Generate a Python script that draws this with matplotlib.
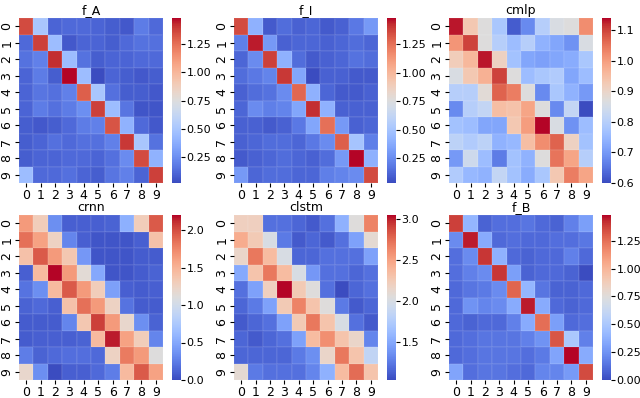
import matplotlib
matplotlib.use('Agg')
import matplotlib.pyplot as plt
import seaborn as sns
import numpy as np

titles = ['f_A', 'f_I', 'cmlp', 'crnn', 'clstm', 'f_B']
labels = [str(i) for i in range(10)]

f_A = [
    [1.35, 0.50, 0.10, 0.12, 0.12, 0.10, 0.08, 0.06, 0.18, 0.12],
    [0.12, 1.38, 0.45, 0.06, 0.10, 0.10, 0.08, 0.12, 0.15, 0.14],
    [0.15, 0.20, 1.42, 0.45, 0.15, 0.08, 0.10, 0.10, 0.12, 0.12],
    [0.10, 0.18, 0.08, 1.48, 0.45, 0.02, 0.10, 0.08, 0.06, 0.08],
    [0.10, 0.16, 0.14, 0.20, 1.30, 0.50, 0.14, 0.08, 0.08, 0.06],
    [0.10, 0.18, 0.14, 0.18, 0.25, 1.38, 0.45, 0.16, 0.05, 0.05],
    [0.08, 0.06, 0.08, 0.12, 0.18, 0.20, 1.33, 0.40, 0.12, 0.06],
    [0.08, 0.10, 0.14, 0.12, 0.14, 0.14, 0.20, 1.40, 0.50, 0.15],
    [0.08, 0.10, 0.10, 0.12, 0.12, 0.10, 0.14, 0.24, 1.35, 0.40],
    [0.45, 0.12, 0.12, 0.14, 0.10, 0.08, 0.16, 0.20, 0.10, 1.38],
]

f_I = [
    [1.35, 0.40, 0.08, 0.14, 0.10, 0.12, 0.08, 0.10, 0.18, 0.30],
    [0.20, 1.45, 0.30, 0.10, 0.12, 0.12, 0.10, 0.12, 0.14, 0.12],
    [0.12, 0.25, 1.38, 0.40, 0.14, 0.08, 0.10, 0.12, 0.16, 0.14],
    [0.14, 0.18, 0.22, 1.40, 0.35, 0.03, 0.10, 0.10, 0.08, 0.08],
    [0.10, 0.14, 0.16, 0.25, 1.28, 0.40, 0.12, 0.08, 0.08, 0.10],
    [0.12, 0.25, 0.20, 0.22, 0.35, 1.42, 0.40, 0.10, 0.10, 0.10],
    [0.10, 0.10, 0.08, 0.10, 0.18, 0.35, 1.25, 0.30, 0.10, 0.12],
    [0.10, 0.12, 0.14, 0.14, 0.12, 0.18, 0.25, 1.30, 0.50, 0.20],
    [0.08, 0.10, 0.12, 0.14, 0.12, 0.10, 0.14, 0.30, 1.48, 0.40],
    [0.30, 0.12, 0.14, 0.14, 0.12, 0.12, 0.20, 0.22, 0.25, 1.35],
]

cmlp = [
    [1.13, 0.93, 0.87, 0.78, 0.62, 0.68, 0.80, 0.86, 0.87, 1.02],
    [1.01, 1.10, 0.87, 0.80, 0.76, 0.80, 0.74, 0.72, 0.69, 0.86],
    [0.92, 0.96, 1.13, 0.91, 0.77, 0.72, 0.71, 0.72, 0.73, 0.78],
    [0.86, 0.93, 0.97, 1.10, 0.87, 0.76, 0.78, 0.79, 0.72, 0.76],
    [0.80, 0.80, 0.88, 1.07, 1.04, 0.87, 0.68, 0.78, 0.74, 0.70],
    [0.68, 0.80, 0.82, 0.95, 0.94, 0.99, 0.87, 0.68, 0.82, 0.60],
    [0.77, 0.76, 0.72, 0.72, 0.93, 1.00, 1.14, 0.86, 0.69, 0.76],
    [0.81, 0.79, 0.81, 0.74, 0.75, 0.95, 1.02, 1.07, 0.91, 0.77],
    [0.70, 0.84, 0.76, 0.66, 0.77, 0.74, 0.87, 1.05, 0.99, 0.80],
    [0.79, 0.75, 0.74, 0.82, 0.77, 0.73, 0.78, 0.93, 1.04, 0.99],
]

crnn = [
    [1.65, 1.30, 0.35, 0.10, 0.10, 0.10, 0.12, 0.55, 1.30, 1.95],
    [1.85, 1.60, 1.25, 0.30, 0.10, 0.05, 0.05, 0.05, 0.10, 1.40],
    [1.40, 1.95, 1.65, 1.35, 0.40, 0.05, 0.05, 0.05, 0.08, 0.08],
    [0.10, 1.45, 2.20, 1.65, 1.15, 0.50, 0.05, 0.05, 0.08, 0.12],
    [0.20, 0.35, 1.45, 1.95, 1.65, 1.30, 0.45, 0.10, 0.08, 0.10],
    [0.12, 0.15, 0.10, 1.40, 1.85, 1.65, 1.25, 0.20, 0.08, 0.08],
    [0.08, 0.08, 0.08, 0.30, 1.35, 2.05, 1.65, 1.20, 0.35, 0.12],
    [0.08, 0.10, 0.10, 0.10, 0.12, 1.45, 2.15, 1.60, 1.30, 0.30],
    [0.25, 0.12, 0.15, 0.18, 0.18, 0.15, 1.25, 1.80, 1.65, 1.10],
    [1.20, 0.35, 0.00, 0.10, 0.10, 0.15, 0.25, 1.45, 1.95, 1.60],
]

clstm = [
    [2.20, 2.20, 1.20, 1.20, 1.15, 1.10, 1.20, 1.55, 2.05, 2.65],
    [2.45, 2.25, 2.00, 1.25, 1.10, 1.15, 1.10, 1.20, 1.45, 2.10],
    [2.15, 2.70, 2.35, 2.00, 1.15, 1.15, 1.20, 1.20, 1.20, 1.45],
    [1.50, 2.30, 2.70, 2.35, 2.00, 1.40, 1.20, 1.20, 1.15, 1.20],
    [1.20, 1.45, 2.20, 3.05, 2.25, 2.05, 1.20, 1.03, 1.15, 1.20],
    [1.15, 1.25, 1.45, 2.25, 2.65, 2.30, 2.05, 1.25, 1.10, 1.15],
    [1.10, 1.15, 1.20, 1.45, 2.25, 2.70, 2.30, 2.00, 1.20, 1.10],
    [1.15, 1.10, 1.15, 1.20, 1.45, 2.35, 2.60, 2.30, 2.15, 1.30],
    [1.15, 1.15, 1.15, 1.15, 1.25, 1.35, 2.15, 2.70, 2.30, 1.85],
    [2.10, 1.25, 1.20, 1.20, 1.20, 1.30, 1.55, 2.35, 2.75, 2.30],
]

f_B = [
    [1.38, 0.40, 0.08, 0.12, 0.12, 0.14, 0.10, 0.08, 0.18, 0.30],
    [0.22, 1.45, 0.35, 0.10, 0.12, 0.10, 0.10, 0.12, 0.12, 0.15],
    [0.12, 0.22, 1.40, 0.38, 0.10, 0.08, 0.10, 0.10, 0.18, 0.10],
    [0.12, 0.18, 0.22, 1.40, 0.30, 0.08, 0.10, 0.10, 0.08, 0.00],
    [0.10, 0.14, 0.16, 0.22, 1.28, 0.40, 0.14, 0.08, 0.08, 0.10],
    [0.10, 0.25, 0.20, 0.22, 0.35, 1.45, 0.35, 0.10, 0.08, 0.10],
    [0.10, 0.08, 0.10, 0.10, 0.18, 0.35, 1.25, 0.30, 0.10, 0.12],
    [0.10, 0.12, 0.14, 0.14, 0.14, 0.18, 0.25, 1.32, 0.50, 0.18],
    [0.10, 0.12, 0.14, 0.14, 0.14, 0.12, 0.16, 0.32, 1.48, 0.35],
    [0.32, 0.12, 0.14, 0.14, 0.12, 0.10, 0.20, 0.20, 0.28, 1.35],
]

mats = [f_A, f_I, cmlp, crnn, clstm, f_B]
cbar_ticks = [
    [0.25, 0.5, 0.75, 1.0, 1.25],
    [0.25, 0.5, 0.75, 1.0, 1.25],
    [0.6, 0.7, 0.8, 0.9, 1.0, 1.1],
    [0.0, 0.5, 1.0, 1.5, 2.0],
    [1.5, 2.0, 2.5, 3.0],
    [0.0, 0.25, 0.5, 0.75, 1.0, 1.25],
]
cbar_fmt = ['%.2f', '%.2f', '%.1f', '%.1f', '%.1f', '%.2f']

W, H = 640, 398
fig = plt.figure(figsize=(W / 100, H / 100), dpi=100)

# pixel layout of heatmaps and colorbars
col_x = [19, 234, 449]
row_y = [18, 215]
hm_w, hm_h = 144, 165
cb_off, cb_w = 153, 9

for k, (name, m) in enumerate(zip(titles, mats)):
    r, c = divmod(k, 3)
    x0, y0 = col_x[c], row_y[r]
    ax = fig.add_axes([x0 / W, 1 - (y0 + hm_h) / H, hm_w / W, hm_h / H])
    cax = fig.add_axes([(x0 + cb_off) / W, 1 - (y0 + hm_h) / H, cb_w / W, hm_h / H])
    sns.heatmap(np.array(m), ax=ax, cbar_ax=cax, cmap='coolwarm',
                xticklabels=labels, yticklabels=labels,
                linewidths=0.3, linecolor=(1, 1, 1, 0.06),
                cbar_kws={'ticks': cbar_ticks[k], 'format': cbar_fmt[k]})
    ax.set_title(name, fontsize=9, pad=3)
    ax.tick_params(labelsize=9, length=3, pad=1)
    plt.setp(ax.get_yticklabels(), rotation=90, va='center')
    plt.setp(ax.get_xticklabels(), rotation=0)
    cax.tick_params(labelsize=8, length=3, pad=1)
    cax.set_frame_on(False)

fig.savefig('out.png', dpi=100)
